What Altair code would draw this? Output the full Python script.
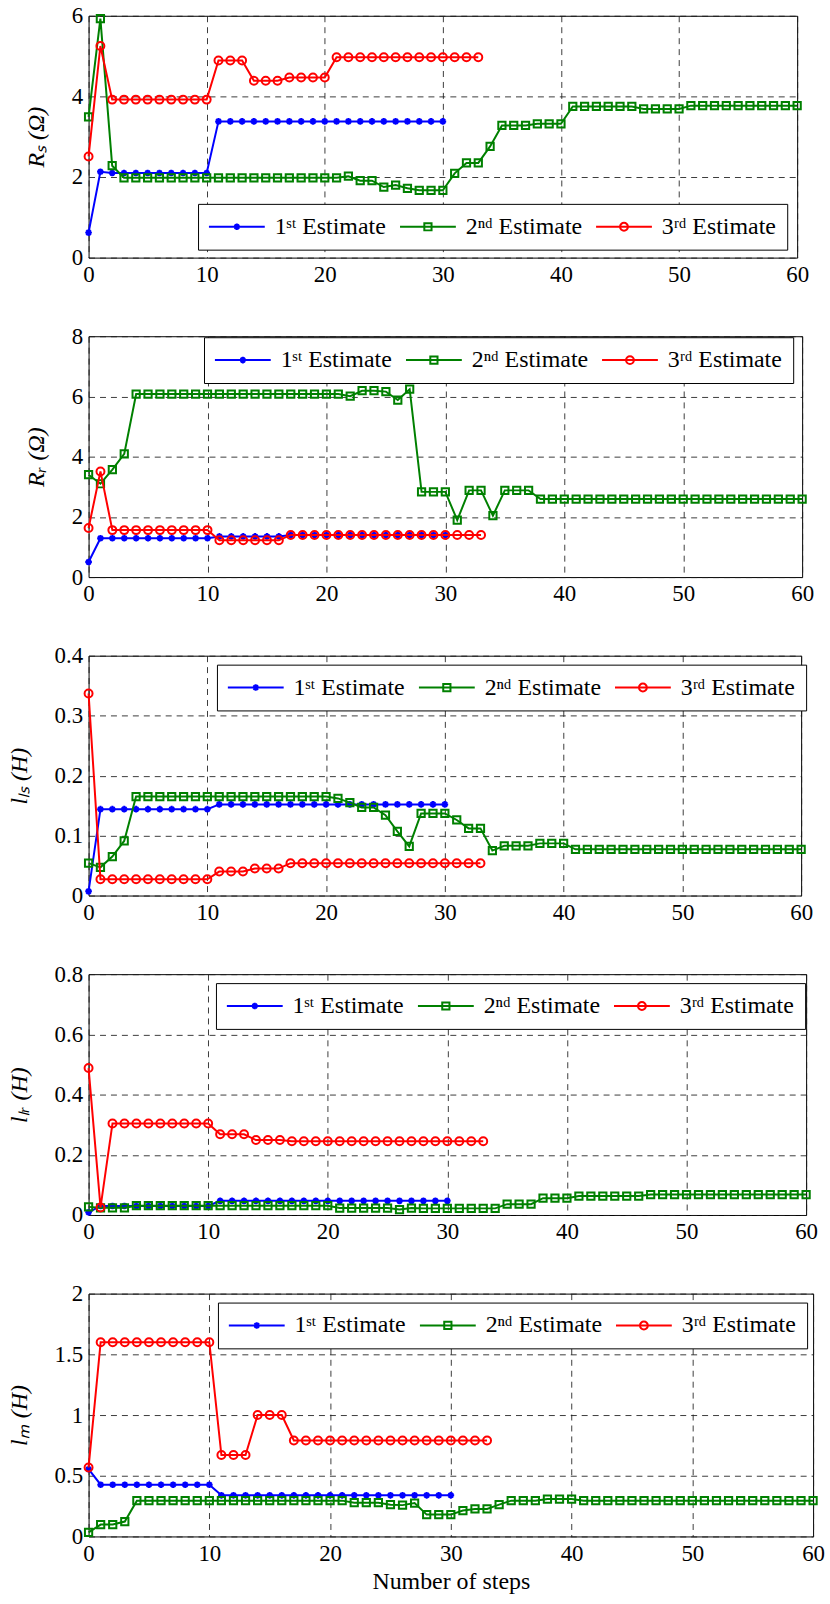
import altair as alt
import pandas as pd

# ---- series labels, colours, step indices ----
SERIES = ["1ˢᵗ Estimate", "2ⁿᵈ Estimate", "3ʳᵈ Estimate"]
COLORS = ["#0000ff", "#008000", "#ff0000"]

STEPS_1ST = list(range(31))
STEPS_2ND = list(range(61))
STEPS_3RD = list(range(34))

X_TICKS = [0, 10, 20, 30, 40, 50, 60]

# ---- R_s (ohm) ----
rs_1st = [0.62, 2.13, 2.1, 2.1, 2.1, 2.1, 2.1, 2.1, 2.1, 2.1, 2.1,
          3.38, 3.38, 3.38, 3.38, 3.38, 3.38, 3.38, 3.38, 3.38, 3.38,
          3.38, 3.38, 3.38, 3.38, 3.38, 3.38, 3.38, 3.38, 3.38, 3.38]
rs_2nd = [3.49, 5.93, 2.28, 1.98, 1.98, 1.98, 1.98, 1.98, 1.98, 1.98, 1.98,
          1.98, 1.98, 1.98, 1.98, 1.98, 1.98, 1.98, 1.98, 1.98, 1.98, 1.98,
          2.02, 1.91, 1.91, 1.75, 1.80, 1.72, 1.67, 1.67, 1.67,
          2.09, 2.35, 2.35, 2.76, 3.28, 3.28, 3.28, 3.32, 3.32, 3.32,
          3.75, 3.75, 3.75, 3.75, 3.75, 3.75, 3.69, 3.69, 3.69, 3.69,
          3.77, 3.77, 3.77, 3.77, 3.77, 3.77, 3.77, 3.77, 3.77, 3.77]
rs_3rd = [2.51, 5.25, 3.92, 3.92, 3.92, 3.92, 3.92, 3.92, 3.92, 3.92, 3.92,
          4.89, 4.89, 4.89, 4.39, 4.39, 4.39, 4.47, 4.47, 4.47, 4.47,
          4.97, 4.97, 4.97, 4.97, 4.97, 4.97, 4.97, 4.97, 4.97, 4.97,
          4.97, 4.97, 4.97]

# ---- R_r (ohm) ----
rr_1st = [0.50, 1.29, 1.29, 1.29, 1.29, 1.29, 1.29, 1.29, 1.29, 1.29, 1.29,
          1.35, 1.35, 1.35, 1.35, 1.35, 1.35, 1.40, 1.40, 1.40, 1.40,
          1.40, 1.40, 1.40, 1.40, 1.40, 1.40, 1.40, 1.40, 1.40, 1.40]
rr_2nd = [3.40, 3.10, 3.57, 4.09, 6.08, 6.08, 6.08, 6.08, 6.08, 6.08, 6.08,
          6.08, 6.08, 6.08, 6.08, 6.08, 6.08, 6.08, 6.08, 6.08, 6.08, 6.08,
          6.01, 6.19, 6.19, 6.16, 5.88, 6.24, 2.83, 2.83, 2.83,
          1.89, 2.88, 2.88, 2.04, 2.88, 2.88, 2.88, 2.59, 2.59, 2.59,
          2.59, 2.59, 2.59, 2.59, 2.59, 2.59, 2.59, 2.59, 2.59, 2.59,
          2.59, 2.59, 2.59, 2.59, 2.59, 2.59, 2.59, 2.59, 2.59, 2.59]
rr_3rd = [1.63, 3.51, 1.56, 1.56, 1.56, 1.56, 1.56, 1.56, 1.56, 1.56, 1.56,
          1.22, 1.22, 1.22, 1.22, 1.22, 1.22, 1.40, 1.40, 1.40, 1.40,
          1.40, 1.40, 1.40, 1.40, 1.40, 1.40, 1.40, 1.40, 1.40, 1.40,
          1.40, 1.40, 1.40]

# ---- l_ls (H) ----
lls_1st = [0.007, 0.144, 0.144, 0.144, 0.144, 0.144, 0.144, 0.144, 0.144, 0.144, 0.144,
           0.152, 0.152, 0.152, 0.152, 0.152, 0.152, 0.152, 0.152, 0.152, 0.152,
           0.152, 0.152, 0.152, 0.152, 0.152, 0.152, 0.152, 0.152, 0.152, 0.152]
lls_2nd = [0.054, 0.047, 0.065, 0.091, 0.165, 0.165, 0.165, 0.165, 0.165, 0.165, 0.165,
           0.165, 0.165, 0.165, 0.165, 0.165, 0.165, 0.165, 0.165, 0.165, 0.165,
           0.162, 0.155, 0.147, 0.147, 0.134, 0.107, 0.082, 0.137, 0.137, 0.137,
           0.126, 0.112, 0.112, 0.075, 0.083, 0.083, 0.083, 0.087, 0.087, 0.087,
           0.077, 0.077, 0.077, 0.077, 0.077, 0.077, 0.077, 0.077, 0.077, 0.077,
           0.077, 0.077, 0.077, 0.077, 0.077, 0.077, 0.077, 0.077, 0.077, 0.077]
lls_3rd = [0.337, 0.027, 0.027, 0.027, 0.027, 0.027, 0.027, 0.027, 0.027, 0.027, 0.027,
           0.040, 0.040, 0.040, 0.045, 0.045, 0.045, 0.054, 0.054, 0.054, 0.054,
           0.054, 0.054, 0.054, 0.054, 0.054, 0.054, 0.054, 0.054, 0.054, 0.054,
           0.054, 0.054, 0.054]

# ---- l_lr (H) ----
llr_1st = [0.009, 0.030, 0.030, 0.030, 0.030, 0.030, 0.030, 0.030, 0.030, 0.030, 0.030,
           0.047, 0.047, 0.047, 0.047, 0.047, 0.047, 0.047, 0.047, 0.047, 0.047,
           0.047, 0.047, 0.047, 0.047, 0.047, 0.047, 0.047, 0.047, 0.047, 0.047]
llr_2nd = [0.027, 0.024, 0.024, 0.024, 0.031, 0.031, 0.031, 0.031, 0.031, 0.031, 0.031,
           0.031, 0.031, 0.031, 0.031, 0.031, 0.031, 0.031, 0.031, 0.031, 0.031,
           0.023, 0.023, 0.023, 0.023, 0.023, 0.018, 0.023, 0.022, 0.022, 0.022,
           0.022, 0.022, 0.022, 0.022, 0.036, 0.036, 0.036, 0.056, 0.056, 0.056,
           0.063, 0.063, 0.063, 0.063, 0.063, 0.063, 0.068, 0.068, 0.068, 0.068,
           0.068, 0.068, 0.068, 0.068, 0.068, 0.068, 0.068, 0.068, 0.068, 0.068]
llr_3rd = [0.488, 0.025, 0.304, 0.304, 0.304, 0.304, 0.304, 0.304, 0.304, 0.304, 0.304,
           0.268, 0.268, 0.268, 0.249, 0.249, 0.249, 0.245, 0.245, 0.245, 0.245,
           0.245, 0.245, 0.245, 0.245, 0.245, 0.245, 0.245, 0.245, 0.245, 0.245,
           0.245, 0.245, 0.245]

# ---- l_m (H) ----
lm_1st = [0.554, 0.426, 0.426, 0.426, 0.426, 0.426, 0.426, 0.426, 0.426, 0.426, 0.426,
          0.339, 0.339, 0.339, 0.339, 0.339, 0.339, 0.339, 0.339, 0.339, 0.339,
          0.339, 0.339, 0.339, 0.339, 0.339, 0.339, 0.339, 0.339, 0.339, 0.339]
lm_2nd = [0.033, 0.098, 0.098, 0.123, 0.295, 0.295, 0.295, 0.295, 0.295, 0.295, 0.295,
          0.295, 0.295, 0.295, 0.295, 0.295, 0.295, 0.295, 0.295, 0.295, 0.295, 0.295,
          0.278, 0.278, 0.278, 0.262, 0.258, 0.275, 0.180, 0.180, 0.180,
          0.213, 0.227, 0.227, 0.262, 0.295, 0.295, 0.295, 0.308, 0.308, 0.308,
          0.295, 0.295, 0.295, 0.295, 0.295, 0.295, 0.295, 0.295, 0.295, 0.295,
          0.295, 0.295, 0.295, 0.295, 0.295, 0.295, 0.295, 0.295, 0.295, 0.295]
lm_3rd = [0.568, 1.6, 1.6, 1.6, 1.6, 1.6, 1.6, 1.6, 1.6, 1.6, 1.6,
          0.671, 0.671, 0.671, 1.0, 1.0, 1.0, 0.791, 0.791, 0.791, 0.791,
          0.791, 0.791, 0.791, 0.791, 0.791, 0.791, 0.791, 0.791, 0.791, 0.791,
          0.791, 0.791, 0.791]

# ---- marker glyphs (SVG paths in Vega's unit box) ----
ASTERISK = "M-1,0H1M0,-1V1M-0.7,-0.7L0.7,0.7M-0.7,0.7L0.7,-0.7"
MARKERS = [(ASTERISK, 45), ("square", 53), ("circle", 64)]

# legend glyphs: a line segment with the marker drawn in its middle
LEGEND_GLYPHS = [
    "M-2.55,0H2.55M-0.3,0H0.3M0,-0.3V0.3M-0.21,-0.21L0.21,0.21M-0.21,0.21L0.21,-0.21",
    "M-2.55,0H2.55M-0.33,-0.33H0.33V0.33H-0.33Z",
    "M-2.55,0H2.55M-0.36,0A0.36,0.36,0,1,0,0.36,0A0.36,0.36,0,1,0,-0.36,0Z",
]

SERIF = "Liberation Serif"


def series_frame(steps, values, name):
    return pd.DataFrame({"step": steps, "value": values, "series": name})


def make_panel(s1, s2, s3, y_title, y_max, y_ticks, width, height,
               leg_x, leg_y, x_title=None):
    df = pd.concat([
        series_frame(STEPS_1ST, s1, SERIES[0]),
        series_frame(STEPS_2ND, s2, SERIES[1]),
        series_frame(STEPS_3RD, s3, SERIES[2]),
    ], ignore_index=True)
    base = alt.Chart(df)

    x_axis = alt.Axis(values=X_TICKS, format="~f", labelFlush=False, labelOverlap=False,
                      labelFont=SERIF, labelFontSize=23, titleFont=SERIF,
                      titleFontSize=24, titlePadding=4, titleFontStyle="normal")
    x = alt.X("step:Q", scale=alt.Scale(domain=[0, 60], nice=False),
              axis=x_axis, title=x_title)
    y_axis = alt.Axis(values=y_ticks, format="~f", labelFlush=False, labelOverlap=False,
                      labelFont=SERIF, labelFontSize=23, titleFont=SERIF,
                      titleFontSize=24, titlePadding=23, titleFontStyle="italic")
    y = alt.Y("value:Q", scale=alt.Scale(domain=[0, y_max], nice=False),
              axis=y_axis, title=y_title)

    layers = []
    for name, color, (shape, size) in zip(SERIES, COLORS, MARKERS):
        one = base.transform_filter(alt.datum.series == name)
        layers.append(one.mark_line(color=color, strokeWidth=2).encode(x=x, y=y))
        layers.append(one.mark_point(shape=shape, size=size, color=color, filled=False,
                                     strokeWidth=2, opacity=1).encode(x=x, y=y))

    legend = alt.Legend(
        title=None, orient="none", legendX=leg_x, legendY=leg_y,
        direction="horizontal", fillColor="white", strokeColor="black",
        padding=11, labelFont=SERIF, labelFontSize=24, labelColor="black",
        labelLimit=400, symbolSize=484, symbolStrokeWidth=2, symbolOffset=16,
        labelOffset=26, columnPadding=9, symbolOpacity=1,
    )
    key = base.transform_filter("false").mark_point(
        filled=False, strokeWidth=2, opacity=1
    ).encode(
        x=x, y=y,
        color=alt.Color("series:N", scale=alt.Scale(domain=SERIES, range=COLORS), legend=legend),
        shape=alt.Shape("series:N", scale=alt.Scale(domain=SERIES, range=LEGEND_GLYPHS), legend=legend),
    )
    layers.append(key)
    return alt.layer(*layers).properties(width=width, height=height)


p1 = make_panel(rs_1st, rs_2nd, rs_3rd, "Rₛ (Ω)", 6, [0, 2, 4, 6],
                712, 243, 110, 189)
p2 = make_panel(rr_1st, rr_2nd, rr_3rd, "Rᵣ (Ω)", 8, [0, 2, 4, 6, 8],
                717, 242, 116, 1)
p3 = make_panel(lls_1st, lls_2nd, lls_3rd, "lₗₛ (H)", 0.4, [0, 0.1, 0.2, 0.3, 0.4],
                716, 241, 129, 9)
p4 = make_panel(llr_1st, llr_2nd, llr_3rd, "lₗᵣ (H)", 0.8, [0, 0.2, 0.4, 0.6, 0.8],
                721, 242, 128, 9)
p5 = make_panel(lm_1st, lm_2nd, lm_3rd, "lₘ (H)", 2, [0, 0.5, 1, 1.5, 2],
                728, 244, 130, 9, x_title="Number of steps")

chart = alt.vconcat(p1, p2, p3, p4, p5, spacing=79, bounds="flush").properties(
    padding={"left": 6, "top": 0, "right": 5, "bottom": 2},
    background="white",
).resolve_scale(
    color="independent", shape="independent"
).resolve_legend(
    color="independent", shape="independent"
).configure(
    font=SERIF,
).configure_view(
    stroke="black", strokeWidth=1,
).configure_axis(
    domain=False, ticks=False, grid=True,
    gridColor="#1a1a1a", gridDash=[6, 5], gridWidth=1, gridOpacity=0.85,
    labelFont=SERIF, labelFontSize=23, labelColor="black", labelPadding=6,
    titleFont=SERIF, titleFontSize=24, titleColor="black", titleFontWeight="normal",
)

chart.save("out.html", embed_options={"renderer": "svg", "actions": False})
